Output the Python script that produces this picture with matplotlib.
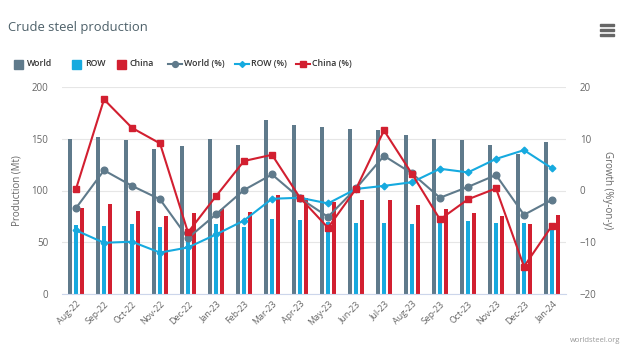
import matplotlib
matplotlib.use("Agg")
import matplotlib.pyplot as plt
from matplotlib.lines import Line2D
from matplotlib.patches import Rectangle
import numpy as np

plt.rcParams['font.family'] = ['Open Sans', 'DejaVu Sans']

months = ["Aug-22", "Sep-22", "Oct-22", "Nov-22", "Dec-22", "Jan-23", "Feb-23", "Mar-23",
          "Apr-23", "May-23", "Jun-23", "Jul-23", "Aug-23", "Sep-23", "Oct-23", "Nov-23",
          "Dec-23", "Jan-24"]
world = [150.0, 151.4, 148.5, 140.0, 142.7, 150.0, 144.3, 167.8, 163.0, 161.4, 159.7, 158.8,
         153.3, 150.0, 148.8, 144.3, 135.3, 146.9]
row = [66.4, 65.7, 68.0, 64.7, 60.0, 67.3, 65.0, 72.0, 71.2, 70.0, 68.9, 68.9, 67.6, 68.3,
       70.5, 68.9, 68.9, 67.0]
china = [83.4, 86.6, 80.2, 75.7, 78.6, 82.1, 79.2, 95.3, 92.4, 89.2, 90.5, 90.5, 85.7, 81.8,
         78.3, 75.4, 67.3, 76.6]
world_pct = [-3.4, 3.9, 0.9, -1.7, -9.2, -4.6, 0.1, 3.1, -1.5, -5.1, 0.4, 6.7, 3.3, -1.4, 0.7,
             3.0, -4.7, -1.8]
row_pct = [-7.7, -10.1, -9.9, -12.0, -11.0, -8.5, -5.8, -1.6, -1.4, -2.5, 0.3, 0.9, 1.6, 4.2,
           3.5, 6.1, 7.8, 4.3]
china_pct = [0.3, 17.6, 12.1, 9.1, -8.1, -1.1, 5.7, 6.9, -1.4, -7.2, 0.3, 11.6, 3.2, -5.6,
             -1.7, 0.4, -14.7, -6.8]

C_WORLD = "#5f7a8b"
C_ROW = "#16aadf"
C_CHINA = "#d21f30"
TXT = "#666666"

W, H = 634, 358
fig = plt.figure(figsize=(W / 100, H / 100), dpi=100)
ax = fig.add_axes([62 / W, 1 - 294 / H, (566 - 62) / W, (294 - 87) / H])
ax2 = ax.twinx()

x = np.arange(len(months))
bw = 0.15
off = 0.205
ax.bar(x - off, world, bw, color=C_WORLD, zorder=2)
ax.bar(x, row, bw, color=C_ROW, zorder=2)
ax.bar(x + off, china, bw, color=C_CHINA, zorder=2)

ax.set_xlim(-0.5, len(months) - 0.5)
ax.set_ylim(0, 200)
ax.set_yticks([0, 50, 100, 150, 200])
ax.grid(axis='y', color='#e6e6e6', linewidth=0.8, zorder=0)
ax.set_axisbelow(True)
for s in ["top", "left", "right"]:
    ax.spines[s].set_visible(False)
    ax2.spines[s].set_visible(False)
ax.spines["bottom"].set_color("#ccd6eb")
ax2.spines["bottom"].set_visible(False)
ax.tick_params(axis='y', length=0, labelsize=7, colors=TXT, pad=10)
ax.tick_params(axis='x', length=0, labelsize=6.4, colors=TXT, pad=4)
ax.set_xticks(x)
ax.set_xticklabels(months, rotation=45, ha='right', rotation_mode='anchor')
ax.set_ylabel("Production (Mt)", fontsize=7, color=TXT, labelpad=6)

ax2.plot(x, world_pct, color=C_WORLD, lw=1.5, marker='o', ms=4.8, zorder=3)
ax2.plot(x, row_pct, color=C_ROW, lw=1.5, marker='D', ms=3.4, zorder=3)
ax2.plot(x, china_pct, color=C_CHINA, lw=1.5, marker='s', ms=5.0, zorder=3)
ax2.set_ylim(-20, 20)
ax2.set_yticks([-20, -10, 0, 10, 20])
ax2.tick_params(axis='y', length=0, labelsize=7, colors=TXT, pad=10)
ax2.set_ylabel("Growth (%y-on-y)", fontsize=7, color=TXT, rotation=270, labelpad=12)

fig.text(8 / W, 1 - 27 / H, "Crude steel production", fontsize=9.4, color="#4d6069",
         va='center', ha='left')

# menu icon
for yy in [25, 30, 35]:
    fig.add_artist(Rectangle((600 / W, 1 - (yy + 1) / H), 14 / W, 2.2 / H,
                             transform=fig.transFigure, color="#666666"))

# legend
ly = 1 - 64 / H
legend_color = "#333333"
for sx, txt, col in [(14, "World", C_WORLD), (72, "ROW", C_ROW), (117, "China", C_CHINA)]:
    fig.add_artist(Rectangle((sx / W, ly - 4.5 / H), 9 / W, 9 / H,
                             transform=fig.transFigure, color=col))
    fig.text((sx + 13) / W, ly, txt, fontsize=6.3, color=legend_color, va='center',
             ha='left', fontweight='semibold')
for sx, txt, col, mk, ms in [(168, "World (%)", C_WORLD, 'o', 4.2),
                             (235, "ROW (%)", C_ROW, 'D', 3.0),
                             (296, "China (%)", C_CHINA, 's', 4.2)]:
    fig.add_artist(Line2D([sx / W, (sx + 14) / W], [ly, ly], transform=fig.transFigure,
                          color=col, lw=1.5))
    fig.add_artist(Line2D([(sx + 7) / W], [ly], transform=fig.transFigure, color=col,
                          marker=mk, ms=ms))
    fig.text((sx + 16) / W, ly, txt, fontsize=6.3, color=legend_color, va='center',
             ha='left', fontweight='semibold')

fig.text(620 / W, 1 - 340 / H, "worldsteel.org", fontsize=5.5, color="#999999",
         ha='right', va='center')

fig.savefig("out.png", dpi=100)
